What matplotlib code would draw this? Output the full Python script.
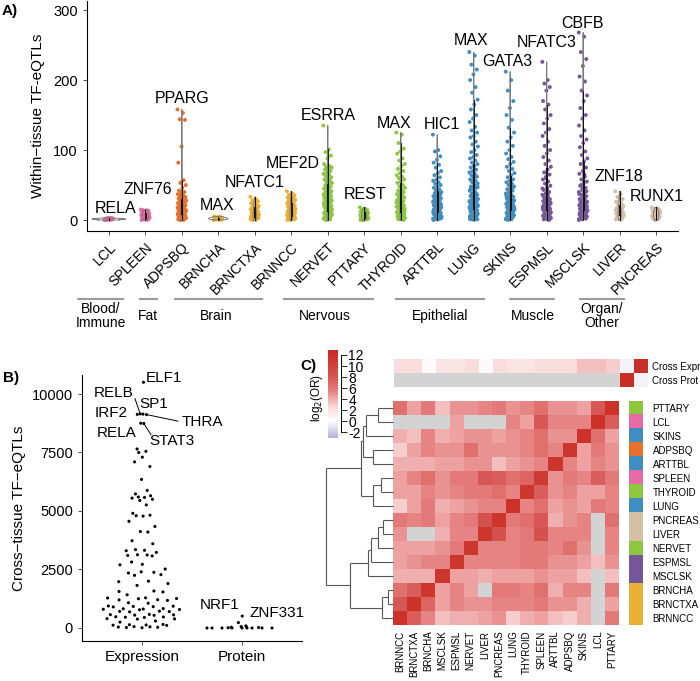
import numpy as np
import matplotlib
matplotlib.use('Agg')
import matplotlib.pyplot as plt
from matplotlib.colors import LinearSegmentedColormap, Normalize, to_rgb
import matplotlib.transforms as mtransforms

plt.rcParams['font.family'] = ['Liberation Sans', 'DejaVu Sans']

# ---------------- Panel A data ----------------
tissues_a = ['LCL', 'SPLEEN', 'ADPSBQ', 'BRNCHA', 'BRNCTXA', 'BRNNCC', 'NERVET', 'PTTARY',
             'THYROID', 'ARTTBL', 'LUNG', 'SKINS', 'ESPMSL', 'MSCLSK', 'LIVER', 'PNCREAS']
tissue_group = {'LCL': 'Blood/Immune', 'SPLEEN': 'Blood/Immune', 'ADPSBQ': 'Fat',
                'BRNCHA': 'Brain', 'BRNCTXA': 'Brain', 'BRNNCC': 'Brain',
                'NERVET': 'Nervous', 'PTTARY': 'Nervous', 'THYROID': 'Nervous',
                'ARTTBL': 'Epithelial', 'LUNG': 'Epithelial', 'SKINS': 'Epithelial',
                'ESPMSL': 'Muscle', 'MSCLSK': 'Muscle', 'LIVER': 'Organ/Other', 'PNCREAS': 'Organ/Other'}
group_colors = {'Blood/Immune': '#E869A3', 'Fat': '#E7702A', 'Brain': '#EBAF32',
                'Nervous': '#8DC63F', 'Epithelial': '#3E8EC2', 'Muscle': '#75569B',
                'Organ/Other': '#D6BEA6'}
top_tf = ['RELA', 'ZNF76', 'PPARG', 'MAX', 'NFATC1', 'MEF2D', 'ESRRA', 'REST',
          'MAX', 'HIC1', 'MAX', 'GATA3', 'NFATC3', 'CBFB', 'ZNF18', 'RUNX1']

LCL = [0, 0, 0, 1, 1, 1, 1, 2, 2, 2, 2, 3, 3, 1, 2, 0, 1, 2]
SPLEEN = [15, 14, 14, 13, 12, 11, 10, 10, 9, 9, 8, 8, 7, 7, 6, 6, 5, 5, 4, 4, 3, 3, 2, 2, 1, 1, 0, 0, 12, 6]
ADPSBQ = [158, 153, 144, 143, 105, 82, 57, 53, 50, 46, 42, 40, 38, 37, 35, 34, 33, 32, 31, 30, 29, 28, 27,
          26, 25, 25, 24, 23, 22, 21, 21, 20, 19, 18, 18, 17, 16, 15, 15, 14, 13, 12, 12, 11, 10, 10, 9,
          8, 8, 7, 6, 6, 5, 4, 4, 3, 3, 2, 2, 1, 1, 0, 0, 27, 22, 19, 16, 13, 9, 5, 2, 31, 28, 24, 20,
          17, 14, 11, 7, 4, 1]
BRNCHA = [0, 0, 1, 1, 1, 2, 2, 2, 3, 3, 3, 4, 4, 5, 5, 2, 1, 3]
BRNCTXA = [33, 30, 28, 27, 26, 24, 22, 21, 20, 19, 18, 17, 16, 15, 14, 13, 12, 11, 10, 10, 9, 8, 8, 7, 6,
           6, 5, 4, 4, 3, 3, 2, 2, 1, 1, 0, 0, 12, 9, 5, 3]
BRNNCC = [41, 38, 36, 35, 33, 32, 31, 30, 29, 28, 27, 26, 25, 24, 23, 22, 21, 20, 19, 18, 17, 16, 15, 15,
          14, 13, 12, 12, 11, 10, 10, 9, 8, 8, 7, 6, 6, 5, 4, 4, 3, 3, 2, 2, 1, 1, 0, 0, 25, 20, 14, 9, 5, 2]
NERVET = [135, 101, 97, 92, 88, 80, 77, 76, 75, 73, 72, 70, 68, 66, 65, 63, 61, 60, 58, 56, 55, 53, 51, 50,
          48, 47, 45, 44, 43, 41, 40, 39, 38, 37, 36, 35, 34, 33, 32, 31, 30, 29, 28, 27, 26, 25, 24, 23,
          22, 21, 20, 19, 18, 17, 16, 15, 14, 13, 12, 11, 10, 9, 8, 7, 6, 5, 4, 3, 2, 1, 0, 28, 24, 20,
          16, 12, 8, 4, 2, 35, 30, 25, 18, 14, 10, 6, 3, 1, 0]
PTTARY = [18, 16, 15, 14, 13, 12, 12, 11, 10, 10, 9, 8, 8, 7, 7, 6, 5, 5, 4, 3, 3, 2, 2, 1, 1, 0, 0]
THYROID = [125, 122, 110, 102, 98, 95, 88, 85, 80, 77, 73, 70, 67, 64, 62, 60, 58, 55, 53, 50, 48, 46, 44,
           42, 40, 38, 37, 35, 33, 32, 30, 29, 27, 26, 25, 24, 22, 21, 20, 19, 18, 17, 16, 15, 14, 13, 12,
           11, 10, 9, 8, 7, 6, 5, 4, 3, 2, 1, 0, 35, 28, 22, 17, 12, 8, 4, 1, 26, 19, 14, 9, 5, 2]
ARTTBL = [122, 100, 98, 91, 86, 82, 79, 75, 70, 67, 64, 61, 58, 56, 54, 52, 50, 48, 46, 44, 42, 40, 39, 38,
          36, 35, 34, 33, 32, 31, 30, 29, 28, 27, 26, 25, 24, 23, 22, 21, 20, 19, 18, 17, 16, 15, 14, 13,
          12, 11, 10, 9, 8, 7, 6, 5, 4, 3, 2, 1, 0, 30, 25, 21, 17, 13, 9, 5, 2, 33, 27, 23, 19, 15, 11,
          7, 3, 1, 28, 22, 16, 10, 4]
LUNG = [240, 235, 222, 215, 208, 200, 190, 182, 172, 165, 158, 150, 145, 140, 133, 128, 125, 120, 118, 112,
        108, 105, 100, 97, 93, 90, 88, 85, 82, 80, 77, 75, 72, 70, 68, 66, 64, 62, 60, 58, 56, 54, 52, 50,
        48, 46, 44, 42, 40, 38, 36, 35, 34, 32, 31, 30, 29, 28, 27, 26, 25, 24, 23, 22, 21, 20, 19, 18, 17,
        16, 15, 14, 13, 12, 11, 10, 9, 8, 7, 6, 5, 4, 3, 2, 1, 0, 45, 38, 33, 27, 22, 18, 14, 10, 6, 3,
        55, 47, 40, 35, 29, 24, 19, 15, 11, 7, 4, 1, 30, 25, 20, 16, 12, 8, 5, 2]
SKINS = [212, 200, 185, 170, 160, 150, 143, 132, 125, 118, 112, 106, 100, 95, 90, 87, 83, 80, 76, 73, 70,
         67, 64, 61, 58, 56, 54, 52, 50, 48, 46, 44, 42, 40, 38, 36, 34, 33, 32, 31, 30, 29, 28, 27, 26,
         25, 24, 23, 22, 21, 20, 19, 18, 17, 16, 15, 14, 13, 12, 11, 10, 9, 8, 7, 6, 5, 4, 3, 2, 1, 0,
         47, 39, 33, 27, 22, 17, 13, 9, 5, 2, 35, 28, 23, 18, 14, 10, 6, 3, 1]
ESPMSL = [226, 200, 195, 190, 185, 170, 165, 158, 150, 145, 138, 130, 125, 120, 112, 106, 100, 95, 90, 85,
          80, 76, 72, 68, 65, 62, 58, 55, 52, 49, 46, 43, 40, 38, 36, 34, 32, 30, 28, 27, 26, 25, 24, 23,
          22, 21, 20, 19, 18, 17, 16, 15, 14, 13, 12, 11, 10, 9, 8, 7, 6, 5, 4, 3, 2, 1, 0, 60, 45, 37,
          31, 25, 20, 15, 11, 7, 3, 42, 33, 27, 21, 16, 12, 8, 4, 1]
MSCLSK = [268, 262, 240, 230, 220, 205, 198, 185, 178, 170, 160, 150, 145, 135, 128, 120, 115, 110, 104, 98,
          93, 88, 84, 80, 75, 70, 66, 62, 58, 55, 52, 49, 46, 43, 40, 38, 36, 34, 32, 30, 28, 27, 26, 25,
          24, 23, 22, 21, 20, 19, 18, 17, 16, 15, 14, 13, 12, 11, 10, 9, 8, 7, 6, 5, 4, 3, 2, 1, 0, 65, 50,
          41, 35, 29, 23, 18, 14, 10, 6, 3, 45, 37, 30, 25, 20, 15, 11, 7, 4, 1]
LIVER = [41, 37, 33, 30, 28, 26, 24, 22, 20, 18, 17, 16, 15, 14, 13, 12, 11, 10, 9, 8, 7, 6, 5, 4, 3, 2,
         1, 0, 15, 10, 5]
PNCREAS = [18, 17, 16, 15, 14, 13, 12, 11, 10, 9, 9, 8, 7, 6, 5, 5, 4, 3, 2, 1, 0, 12, 8, 3]
values_a = [LCL, SPLEEN, ADPSBQ, BRNCHA, BRNCTXA, BRNNCC, NERVET, PTTARY, THYROID, ARTTBL,
            LUNG, SKINS, ESPMSL, MSCLSK, LIVER, PNCREAS]
a_yticks = [0, 100, 200, 300]
groups = ['Blood/\nImmune', 'Fat', 'Brain', 'Nervous', 'Epithelial', 'Muscle', 'Organ/\nOther']

# ---------------- Panel B data ----------------
b_categories = ['Expression', 'Protein']
expr_values = [10500, 9150, 9140, 9130, 9120, 8750, 8740,
               7650, 7550, 7500, 7300, 7100, 6900, 6350, 5880, 5730, 5650, 5600, 5580, 5550, 5500, 5450,
               5260, 4900, 4820, 4800, 4780, 4560, 4340, 4120, 4100, 3730, 3600, 3350, 3320, 3300, 3230,
               3130, 3120, 3100, 3080, 2820, 2720, 2700, 2520, 2400, 2380, 2350, 2280, 2250, 2000, 1980,
               1900, 1820, 1580, 1560, 1540, 1420, 1290, 1280, 1260, 1250, 1210, 1200, 1180, 1080, 1060,
               940, 930, 920, 910, 900, 830, 820, 810, 800, 790, 780, 720, 710, 700, 690, 580, 570, 560,
               550, 540, 480, 470, 460, 450, 400, 390, 380, 300, 250, 150, 140, 130, 120, 110, 60, 50,
               40, 30, 20, 10]
expr_names = ['ELF1', 'RELB', 'SP1', 'IRF2', 'THRA', 'RELA', 'STAT3']
prot_values = [510, 230, 90, 60, 40, 30, 20, 10, 0, 0, 0, 0, 0, 0, 0, 0, 0]
prot_names = ['NRF1', 'ZNF331']
b_yticks = [0, 2500, 5000, 7500, 10000]

# ---------------- Panel C data ----------------
hm_rows = ['PTTARY', 'LCL', 'SKINS', 'ADPSBQ', 'ARTTBL', 'SPLEEN', 'THYROID', 'LUNG',
           'PNCREAS', 'LIVER', 'NERVET', 'ESPMSL', 'MSCLSK', 'BRNCHA', 'BRNCTXA', 'BRNNCC']
hm_cols = ['BRNNCC', 'BRNCTXA', 'BRNCHA', 'MSCLSK', 'ESPMSL', 'NERVET', 'LIVER', 'PNCREAS',
           'LUNG', 'THYROID', 'SPLEEN', 'ARTTBL', 'ADPSBQ', 'SKINS', 'LCL', 'PTTARY']
N = None
log2_or = [
    [6.5, 4.5, 6, 3.5, 5, 5, 5.5, 6, 5, 5.5, 6.5, 5, 5, 4.5, 8, 12],
    [N, N, N, N, 4.5, N, N, N, 5.5, 4.5, 8, 5.5, 5.5, 5.5, 12, 7.5],
    [4, 3.5, 5.5, 4, 4.5, 5, 5, 4.5, 5, 5.5, 6.5, 5, 5, 12, 6.5, 4.5],
    [3, 4.5, 5.5, 5, 5, 6.5, 5, 5, 5, 5.5, 6.5, 5.5, 11.5, 4.5, 6, 5],
    [4, 4, 4, 4.5, 4.5, 5, 5, 3.5, 4.5, 5, 5.5, 11.5, 5.5, 4.5, 5.5, 5],
    [4.5, 5.5, 6.5, 5, 6, 6, 8, 7.5, 6.5, 7, 11, 5, 6, 5.5, 7.5, 6],
    [4.5, 4.5, 5.5, 5, 5.5, 6, 6, 6.5, 5.5, 11.5, 7.5, 5, 5.5, 4.5, 4.5, 5.5],
    [3, 4.5, 6, 4, 4.5, 5, 5.5, 5.5, 12, 5.5, 6.5, 4.5, 5, 4.5, 6, 5.5],
    [6, 5.5, 6, 4.5, 5.5, 6, 8.5, 11.5, 6, 6.5, 8, 4, 5, 5.5, N, 6.5],
    [5, N, N, 4, 5.5, 5.5, 11.5, 8.5, 5.5, 6, 8.5, 5.5, 5.5, 5.5, N, 5.5],
    [4.5, 4.5, 4.5, 5, 6, 11.5, 5.5, 5.5, 5.5, 6, 6, 5.5, 6.5, 5, N, 5.5],
    [4.5, 5, 5.5, 5.5, 11.5, 5.5, 5.5, 5.5, 5.5, 6, 6, 5, 5, 4.5, 3.5, 5],
    [4, 4, 4, 11.5, 4.5, 4.5, 4, 4.5, 4.5, 4.5, 5, 4.5, 4.5, 3.5, N, 3.5],
    [6.5, 7.5, 11.5, 4.5, 5.5, 4.5, N, 6, 6, 5.5, 6.5, 4, 5.5, 5.5, N, 6],
    [8, 12, 7, 4.5, 5.5, 5, 5, 5.5, 5.5, 5.5, 6, 5, 5, 4, N, 4.5],
    [12, 7.5, 5.5, 3.5, 4, 4, 4.5, 5, 3, 4, 4.5, 3.5, 3, 4, N, 6],
]
cross_rows = ['Cross Expr', 'Cross Prot']
cross_expr = [2.5, 2.5, 0.4, 2, 2, 2.5, 0.4, 2.5, 2, 2, 2.5, 2.5, 2.5, 3.5, 3.5, 3, -0.5, 12.5]
cross_prot = [N] * 16 + [12.5, -0.5]
# dendrogram: (height, left, right)
row_tree = (67,
            (32, (30, (27, (15, 'PTTARY', 'LCL'), 'SKINS'), (20, 'ADPSBQ', 'ARTTBL')),
             (20, (12, 'SPLEEN', 'THYROID'), 'LUNG')),
            (43, (25, (22, (15, (10, 'PNCREAS', 'LIVER'), 'NERVET'), 'ESPMSL'), 'MSCLSK'),
             (11, (5, 'BRNCHA', 'BRNCTXA'), 'BRNNCC')))
cbar_ticks = [12, 10, 8, 6, 4, 2, 0, -2]
cmap_vals = [-3.0, 0, 2.5, 4, 5.5, 7, 8.5, 12, 12.9]
cmap_cols = ['#b6aedb', '#ffffff', '#f9dcdc', '#f0afaf', '#e68282', '#dc6663', '#d4514c', '#cc3228',
             '#c62b23']

# ---------------- layout helpers ----------------
W, H = 700, 681
fig = plt.figure(figsize=(7, 6.81), dpi=100)


def rect(x0, y0, x1, y1):
    return [x0 / W, 1 - y1 / H, (x1 - x0) / W, (y1 - y0) / H]


def kde(vals, grid):
    v = np.asarray(vals, float)
    n = len(v)
    sd = v.std(ddof=1)
    iqr = np.subtract(*np.percentile(v, [75, 25]))
    lo = min(sd, iqr / 1.34) if iqr > 0 else sd
    bw = 0.9 * lo * n ** -0.2
    if bw <= 0:
        bw = 1.0
    g = np.asarray(grid, float)
    return np.exp(-0.5 * ((g[:, None] - v[None, :]) / bw) ** 2).sum(1) / (n * bw * np.sqrt(2 * np.pi))


# ================= Panel A =================
axA = fig.add_axes(rect(87, 1, 678, 231))
xpos = np.arange(1, len(tissues_a) + 1)
dens_list = []
for vals in values_a:
    grid = np.linspace(min(vals), max(vals), 200)
    dens_list.append((grid, kde(vals, grid)))
K = 0.45 / max(d.max() for _, d in dens_list)
for i, (t, vals) in enumerate(zip(tissues_a, values_a)):
    col = group_colors[tissue_group[t]]
    n = len(vals)
    jit = np.array([((k * 0.6180339887) % 1 - 0.5) * 0.24 for k in range(n)])
    axA.scatter(xpos[i] + jit, vals, s=8, color=col, edgecolors='none', zorder=2)
    grid, d = dens_list[i]
    w = d * K
    axA.plot(np.concatenate([xpos[i] - w, (xpos[i] + w)[::-1], [xpos[i] - w[0]]]),
             np.concatenate([grid, grid[::-1], [grid[0]]]), color='#7a7a7a', lw=0.7, zorder=3)
axA.boxplot(values_a, positions=xpos, widths=0.02, showfliers=False, showcaps=False,
            manage_ticks=False,
            medianprops=dict(color='black', lw=0.6), boxprops=dict(color='black', lw=0.6),
            whiskerprops=dict(color='black', lw=0.6), zorder=4)
label_pos_a = [(1.18, 17), (2.08, 44), (3.01, 173), (3.97, 21), (5.0, 53), (6.05, 81), (7.02, 150),
               (8.03, 36), (8.82, 138), (10.14, 137), (10.93, 256), (11.92, 226), (13.01, 253),
               (13.97, 281), (14.98, 62), (16.03, 34)]
for (lx, ly), name in zip(label_pos_a, top_tf):
    axA.text(lx, ly, name, ha='center', va='center', fontsize=11.5, clip_on=False, zorder=5)
axA.set_xlim(0.4, 16.6)
axA.set_ylim(-15.7, 313)
axA.set_yticks(a_yticks)
axA.set_yticklabels([str(v) for v in a_yticks], fontsize=10.5)
axA.set_xticks(xpos)
axA.set_xticklabels(tissues_a, rotation=45, ha='right', rotation_mode='anchor', fontsize=10)
axA.tick_params(length=3, width=0.6, color='#333333')
for s in ['top', 'right']:
    axA.spines[s].set_visible(False)
for s in ['left', 'bottom']:
    axA.spines[s].set_linewidth(0.8)
axA.set_ylabel('Within\u2212tissue TF-eQTLs', fontsize=11, labelpad=6)
fig.text(2 / W, 1 - 11 / H, 'A)', fontsize=11, fontweight='bold', ha='left', va='center')

# tissue group annotation
trans = mtransforms.blended_transform_factory(axA.transData, fig.transFigure)
group_spans = [(0.16, 1.40), (1.86, 2.33), (2.80, 5.21), (5.81, 8.25), (8.88, 11.29), (11.99, 13.20),
               (13.92, 15.12)]
group_text_x = [0.77, 2.08, 3.95, 6.93, 10.08, 12.63, 14.52]
for (g0, g1), gx, gname in zip(group_spans, group_text_x, groups):
    axA.plot([g0, g1], [1 - 299 / H] * 2, transform=trans, color='#9a9a9a', lw=1.5, clip_on=False)
    axA.text(gx, 1 - 316 / H, gname, transform=trans, ha='center', va='center',
             fontsize=10, linespacing=1.05, family=['Liberation Sans Narrow', 'Liberation Sans'])

# ================= Panel B =================
axB = fig.add_axes(rect(82, 375, 302, 641))


def vdc(n, base=2):
    out = []
    for i in range(1, n + 1):
        q, denom, x = i, 1.0, 0.0
        while q:
            denom *= base
            q, r = divmod(q, base)
            x += r / denom
        out.append(x)
    return np.array(out)


def quasirandom(vals, width=0.4):
    v = np.asarray(vals, float)
    d = kde(v, v)
    d = d / d.max()
    rank = np.argsort(np.argsort(v, kind='stable'), kind='stable')
    seq = vdc(len(v))
    return (seq[rank] - 0.5) * 2 * width * d


offs_e = quasirandom(expr_values)
offs_p = quasirandom(prot_values)
xe = 1 + offs_e
xp = 2 + offs_p
axB.scatter(xe, expr_values, s=5, color='black', edgecolors='none', zorder=3)
axB.scatter(xp, prot_values, s=5, color='black', edgecolors='none', zorder=3)
b_label_pos = {'ELF1': (1.04, 10700, 'left'), 'RELB': (0.72, 10040, 'center'),
               'SP1': (1.12, 9570, 'center'), 'IRF2': (0.69, 9190, 'center'),
               'THRA': (1.60, 8800, 'center'), 'RELA': (0.75, 8330, 'center'),
               'STAT3': (1.30, 7990, 'center'),
               'NRF1': (1.78, 980, 'center'), 'ZNF331': (2.35, 640, 'center')}
seg_from = {'RELB': (0.93, 9800), 'THRA': (1.36, 8840), 'STAT3': (1.09, 8260)}
for name, xv, yv in list(zip(expr_names, xe, expr_values)) + list(zip(prot_names, xp, prot_values)):
    lx, ly, ha = b_label_pos[name]
    axB.text(lx, ly, name, ha=ha, va='center', fontsize=11, zorder=5)
    if name in seg_from:
        sx, sy = seg_from[name]
        axB.plot([sx, xv], [sy, yv], color='black', lw=0.7, zorder=2)
axB.set_xlim(0.4, 2.6)
axB.set_ylim(-556, 10812)
axB.set_xticks([1, 2])
axB.set_xticklabels(b_categories, fontsize=11)
axB.set_yticks(b_yticks)
axB.set_yticklabels([str(v) for v in b_yticks], fontsize=10.5)
axB.tick_params(length=3, width=0.6, color='#333333')
for s in ['top', 'right']:
    axB.spines[s].set_visible(False)
for s in ['left', 'bottom']:
    axB.spines[s].set_linewidth(0.8)
axB.set_ylabel('Cross\u2212tissue TF\u2212eQTLs', fontsize=11, labelpad=4)
fig.text(3 / W, 1 - 378 / H, 'B)', fontsize=11, fontweight='bold', ha='left', va='center')

# ================= Panel C =================
vmin, vmax = cmap_vals[0], cmap_vals[-1]
cmap = LinearSegmentedColormap.from_list(
    'or', [((v - vmin) / (vmax - vmin), c) for v, c in zip(cmap_vals, cmap_cols)])
cmap.set_bad('#D3D3D3')
norm = Normalize(vmin, vmax)

M = np.array([[np.nan if v is None else v for v in r] for r in log2_or], float)
axH = fig.add_axes(rect(393, 401, 619, 625))
axH.pcolormesh(np.ma.masked_invalid(M), cmap=cmap, norm=norm, edgecolors='none')
axH.set_xlim(0, 16)
axH.set_ylim(16, 0)
axH.set_xticks(np.arange(16) + 0.5)
axH.set_xticklabels(hm_cols, rotation=90, fontsize=7)
axH.set_yticks([])
axH.tick_params(length=0, pad=4)
for s in axH.spines.values():
    s.set_visible(False)

# top annotation
T = np.array([[np.nan if v is None else v for v in cross_expr],
              [np.nan if v is None else v for v in cross_prot]], float)
axT = fig.add_axes(rect(394, 359, 648, 387))
axT.pcolormesh(np.ma.masked_invalid(T), cmap=cmap, norm=norm, edgecolors='none')
axT.set_xlim(0, 18)
axT.set_ylim(2, 0)
axT.set_xticks([])
axT.yaxis.tick_right()
axT.set_yticks([0.5, 1.5])
axT.set_yticklabels(cross_rows, fontsize=7)
axT.tick_params(length=0, pad=3)
for s in axT.spines.values():
    s.set_visible(False)

# row annotation
axR = fig.add_axes(rect(629, 401, 643, 625))
rgb = np.array([to_rgb(group_colors[tissue_group[r]]) for r in hm_rows])[:, None, :]
axR.imshow(rgb, aspect='auto', extent=(0, 1, 16, 0), interpolation='nearest')
axR.set_xticks([])
axR.yaxis.tick_right()
axR.set_yticks(np.arange(16) + 0.5)
axR.set_yticklabels(hm_rows, fontsize=7)
axR.tick_params(length=0, pad=7)
for s in axR.spines.values():
    s.set_visible(False)

# dendrogram
axD = fig.add_axes(rect(326, 401, 393, 625))


def draw_tree(node):
    if isinstance(node, str):
        return hm_rows.index(node) + 0.5, 0.0
    h, a, b = node
    ya, ha_ = draw_tree(a)
    yb, hb_ = draw_tree(b)
    kw = dict(color='#555555', lw=0.8, clip_on=False, solid_capstyle='butt')
    axD.plot([ha_, h], [ya, ya], **kw)
    axD.plot([hb_, h], [yb, yb], **kw)
    axD.plot([h, h], [ya, yb], **kw)
    return (ya + yb) / 2, h


draw_tree(row_tree)
axD.set_xlim(row_tree[0], 0)
axD.set_ylim(16, 0)
axD.axis('off')

# colorbar
axC = fig.add_axes(rect(328, 350, 338, 438))
grad = np.linspace(vmin, vmax, 256)[:, None]
axC.imshow(grad, aspect='auto', cmap=cmap, norm=norm, origin='lower', extent=(0, 1, vmin, vmax))
axC.set_ylim(vmin, vmax)
axC.set_xticks([])
axC.yaxis.tick_right()
axC.set_yticks(cbar_ticks)
axC.set_yticklabels([str(t) for t in cbar_ticks], fontsize=6)
axC.tick_params(axis='y', length=4, width=0.6, pad=1.5, direction='out')
for s in ['top', 'left', 'bottom']:
    axC.spines[s].set_visible(False)
axC.spines['right'].set_position(('outward', 2))
axC.spines['right'].set_bounds(-2, 12)
axC.spines['right'].set_linewidth(0.7)
fig.text(317 / W, 1 - 398 / H, r'log$_2$(OR)', rotation=90, ha='center', va='center', fontsize=8.5)
fig.text(300 / W, 1 - 366 / H, 'C)', fontsize=11, fontweight='bold', ha='left', va='center')

fig.savefig('out.png', dpi=100)
